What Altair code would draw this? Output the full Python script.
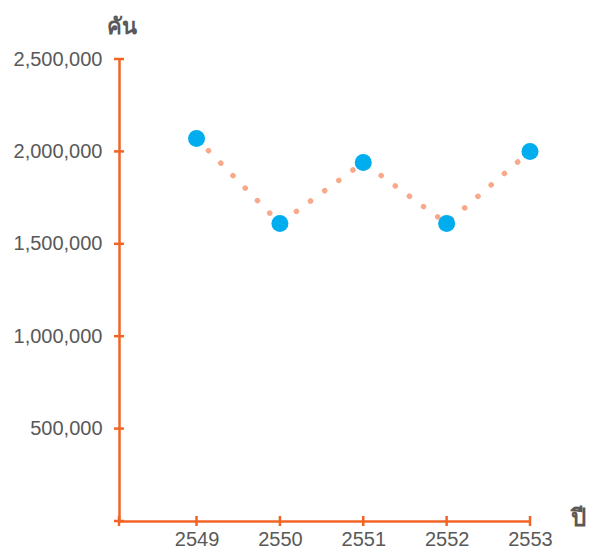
import altair as alt
import pandas as pd

years = [2549, 2550, 2551, 2552, 2553]
cars = [2070000, 1610000, 1940000, 1610000, 2000000]
y_ticks = [0, 500000, 1000000, 1500000, 2000000, 2500000]
x_min = 2548.07
x_ticks = [x_min, 2549, 2550, 2551, 2552, 2553]

AX = "#F26426"
LBL = "#595959"
FONT = "Liberation Sans"
W, H = 411, 462

df = pd.DataFrame({"year": years, "cars": cars})
yt = pd.DataFrame({"v": y_ticks})
xt = pd.DataFrame({"v": x_ticks})

xscale = alt.Scale(domain=[x_min, 2553], nice=False, zero=False)
yscale = alt.Scale(domain=[0, 2500000], nice=False)

xaxis = alt.Axis(values=x_ticks, labelExpr="datum.value < 2549 ? '' : format(datum.value, 'd')",
                 labelOverlap=False, labelFlush=False,
                 grid=False, ticks=False, domain=True, domainColor=AX, domainWidth=2.5,
                 labelFont=FONT, labelFontSize=20, labelColor=LBL, labelPadding=8,
                 title="ปี", titleAngle=0, titleX=459, titleY=-3, titleAlign="center",
                 titleBaseline="middle", titleFont=FONT, titleFontSize=24, titleFontWeight="bold",
                 titleColor=LBL)
yaxis = alt.Axis(values=y_ticks, labelExpr="datum.value == 0 ? '' : format(datum.value, ',')",
                 labelOverlap=False, labelFlush=False,
                 grid=False, ticks=False, domain=True, domainColor=AX, domainWidth=2.5,
                 labelFont=FONT, labelFontSize=20, labelColor=LBL, labelPadding=17,
                 title="คัน", titleAngle=0, titleX=2, titleY=-33, titleAlign="center",
                 titleBaseline="middle", titleFont=FONT, titleFontSize=22, titleFontWeight="bold",
                 titleColor=LBL)

line = alt.Chart(df).mark_line(color="#F7A98A", strokeWidth=5.5, strokeCap="round",
                               strokeDash=[0.1, 17.4], strokeDashOffset=-17).encode(
    x=alt.X("year:Q", scale=xscale, axis=xaxis),
    y=alt.Y("cars:Q", scale=yscale, axis=yaxis),
)
pts = alt.Chart(df).mark_circle(color="#00AEEF", opacity=1, size=290).encode(
    x=alt.X("year:Q", scale=xscale),
    y=alt.Y("cars:Q", scale=yscale),
)
ytick = alt.Chart(yt).mark_rule(color=AX, strokeWidth=2.5).encode(
    y=alt.Y("v:Q", scale=yscale),
    x=alt.value(-5), x2=alt.value(5),
)
xtick = alt.Chart(xt).mark_rule(color=AX, strokeWidth=2.5).encode(
    x=alt.X("v:Q", scale=xscale),
    y=alt.value(H - 5), y2=alt.value(H + 5),
)

chart = alt.layer(line, ytick, xtick, pts).properties(
    width=W, height=H,
    padding={"left": 111, "top": 51, "right": 57, "bottom": 28},
    autosize=alt.AutoSizeParams(type="none"),
    background="white",
).configure_view(stroke=None)

chart.save("out.html", embed_options={"renderer": "svg", "actions": False})
